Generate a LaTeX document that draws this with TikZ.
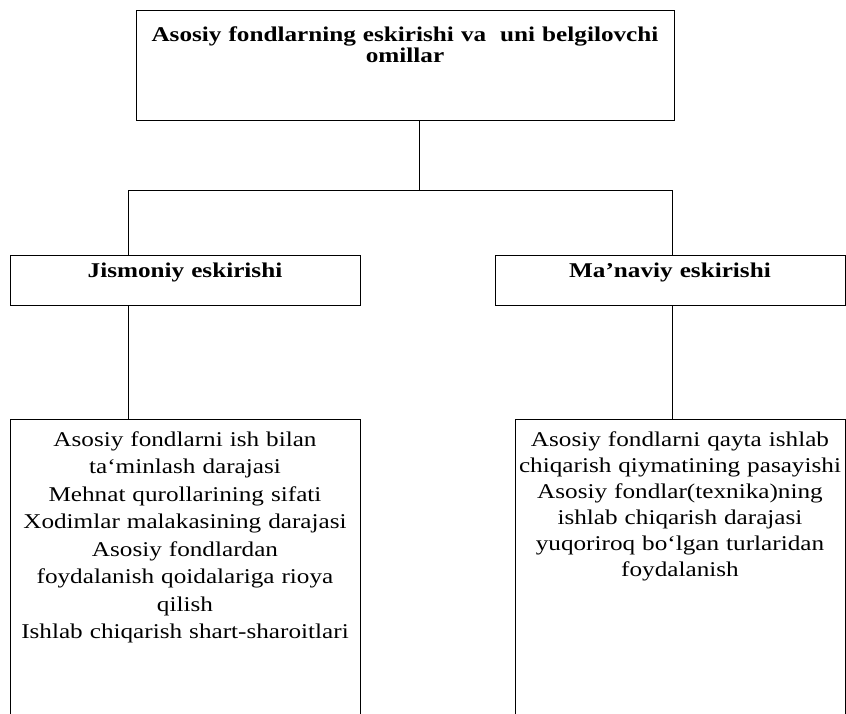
\documentclass[tikz,border=0pt]{standalone}
\usepackage{fontspec}
\setmainfont{Liberation Serif}[FakeStretch=1.2]
\usepackage{tikz}
\usetikzlibrary{positioning}

\begin{document}
\begin{tikzpicture}[line width=1pt, box/.style={draw, align=center, inner xsep=2pt, inner ysep=0pt, font=\fontsize{21pt}{26pt}\selectfont}, head/.style={box, font=\bfseries\fontsize{21pt}{21pt}\selectfont}]
\useasboundingbox (0pt, 0pt) rectangle (846pt, -713pt);
\clip (0pt, 0pt) rectangle (846pt, -713pt);
\draw (405.0pt, -65.0pt)node[head, text width=534pt, text height=31pt, text depth=79pt](0){Asosiy fondlarning eskirishi va~ uni belgilovchi\\ omillar};
\draw (185.0pt, -280.0pt)node[head, text width=346pt, text height=22pt, text depth=28pt](1){Jismoniy eskirishi};
\draw (670.0pt, -280.0pt)node[head, text width=346pt, text height=22pt, text depth=28pt](2){Ma’naviy eskirishi};
\draw (185.0pt, -574.5pt)node[box, font=\fontsize{21pt}{27.5pt}\selectfont, text width=346pt, text height=27pt, text depth=284pt](3){Asosiy fondlarni ish bilan\\ ta‘minlash darajasi\\ Mehnat qurollarining sifati\\ Xodimlar malakasining darajasi\\ Asosiy fondlardan\\ foydalanish qoidalariga rioya\\ qilish\\ Ishlab chiqarish shart-sharoitlari};
\draw (680.0pt, -574.5pt)node[box, text width=326pt, text height=27pt, text depth=284pt](4){Asosiy fondlarni qayta ishlab\\ chiqarish qiymatining pasayishi\\ Asosiy fondlar(texnika)ning\\ ishlab chiqarish darajasi\\ yuqoriroq bo‘lgan turlaridan\\ foydalanish};
\coordinate (m) at (419.0pt, -190.0pt);
\coordinate (l) at (128.0pt, -190.0pt);
\coordinate (r) at (672.0pt, -190.0pt);
\draw (0.south -| m) -- (m);
\draw (1.north -| l) -- (l) -- (r) -- (2.north -| r);
\draw (1.south -| l) -- (3.north -| l);
\draw (2.south -| r) -- (4.north -| r);
\end{tikzpicture}
\end{document}
